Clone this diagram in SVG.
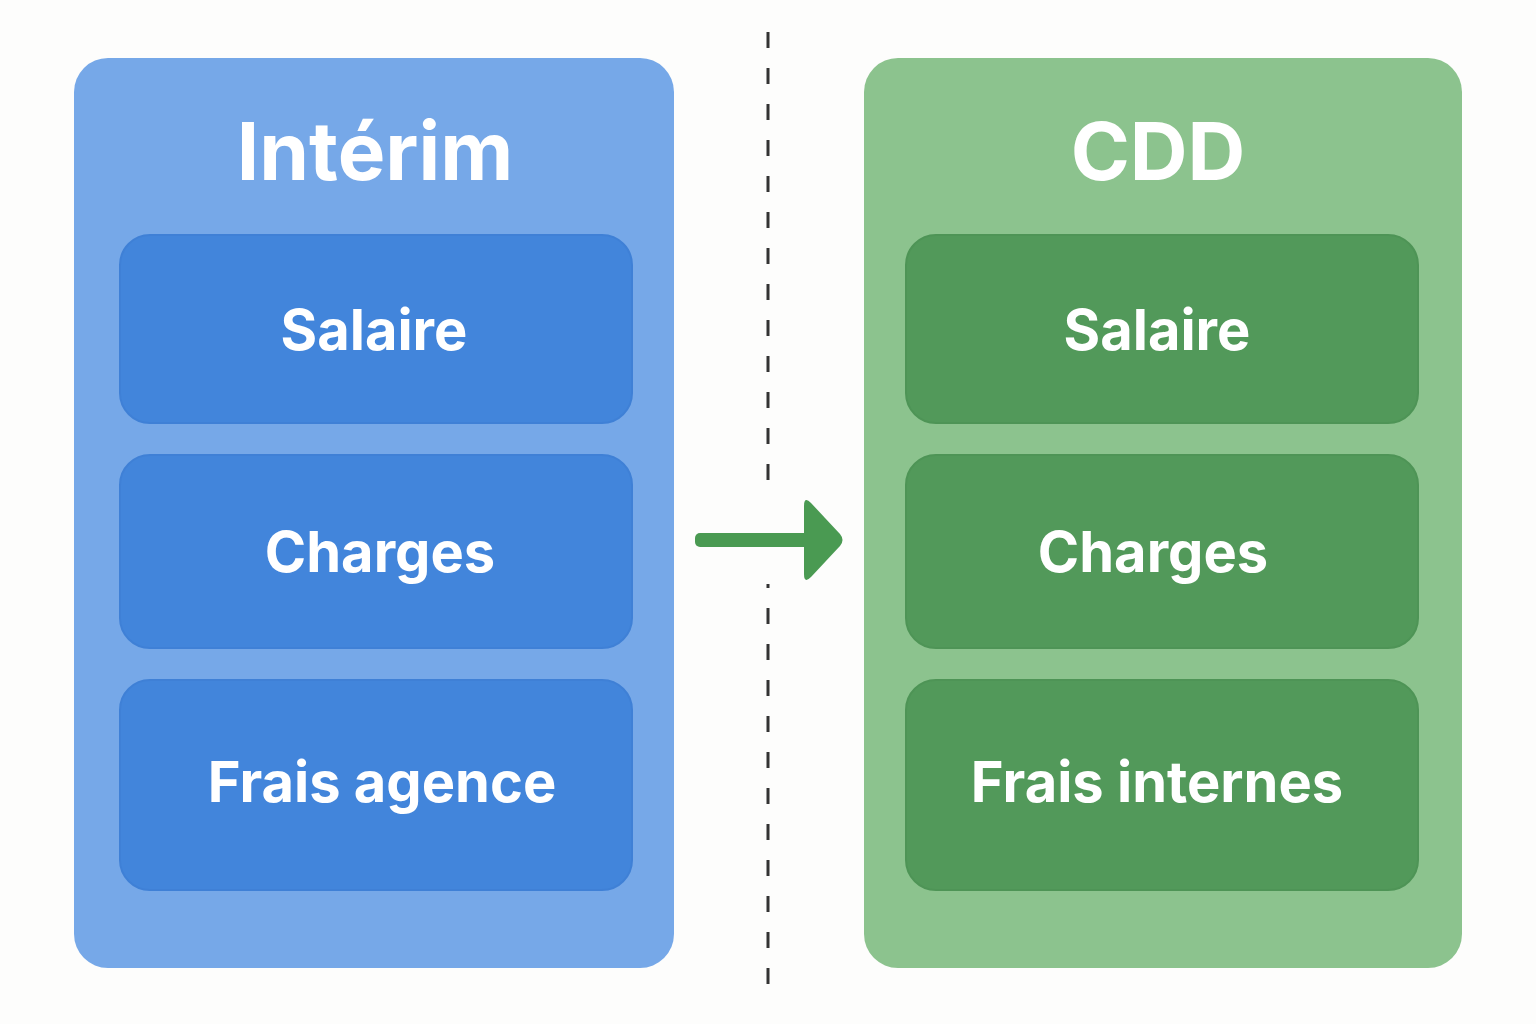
<svg xmlns="http://www.w3.org/2000/svg" width="1536" height="1024" viewBox="0 0 1536 1024">
<style>
.t{font-family:Inter,"Liberation Sans",sans-serif;font-weight:700;fill:#fff;text-anchor:middle}
.h{font-size:80px}.b{font-size:56px}
.bi{fill:#4285db;stroke:#3f80d6;stroke-width:2}
.gi{fill:#52995a;stroke:#4e9456;stroke-width:2}
</style>
<rect width="1536" height="1024" fill="#fdfdfc"/>
<g id="interim">
<rect x="74" y="58" width="600" height="910" rx="34" fill="#76a8e8"/>
<text class="t h" x="375" y="180">Intérim</text>
</g>
<g id="i-salaire"><rect class="bi" x="120" y="235" width="512" height="188" rx="30"/><text class="t b" x="374" y="350">Salaire</text></g>
<g id="i-charges"><rect class="bi" x="120" y="455" width="512" height="193" rx="30"/><text class="t b" x="380" y="572">Charges</text></g>
<g id="i-frais"><rect class="bi" x="120" y="680" width="512" height="210" rx="30"/><text class="t b" x="382" y="802">Frais agence</text></g>
<g id="cdd">
<rect x="864" y="58" width="598" height="910" rx="34" fill="#8cc38e"/>
<text class="t h" x="1158" y="180">CDD</text>
</g>
<g id="c-salaire"><rect class="gi" x="906" y="235" width="512" height="188" rx="30"/><text class="t b" x="1157" y="350">Salaire</text></g>
<g id="c-charges"><rect class="gi" x="906" y="455" width="512" height="193" rx="30"/><text class="t b" x="1153" y="572">Charges</text></g>
<g id="c-frais"><rect class="gi" x="906" y="680" width="512" height="210" rx="30"/><text class="t b" x="1157" y="802">Frais internes</text></g>
<g id="connectors">
<line x1="768" y1="32" x2="768" y2="1000" stroke="#333" stroke-width="3" stroke-dasharray="16,20"/>
<rect x="740" y="492" width="60" height="92" fill="#fdfdfc"/>
<rect x="695" y="533" width="115" height="14" rx="5" fill="#4a9a52"/>
<path d="M804,506 Q804,496 811,503 L840,534 Q845,540 840,546 L811,577 Q804,584 804,574 Z" fill="#4a9a52"/>
</g>
</svg>
